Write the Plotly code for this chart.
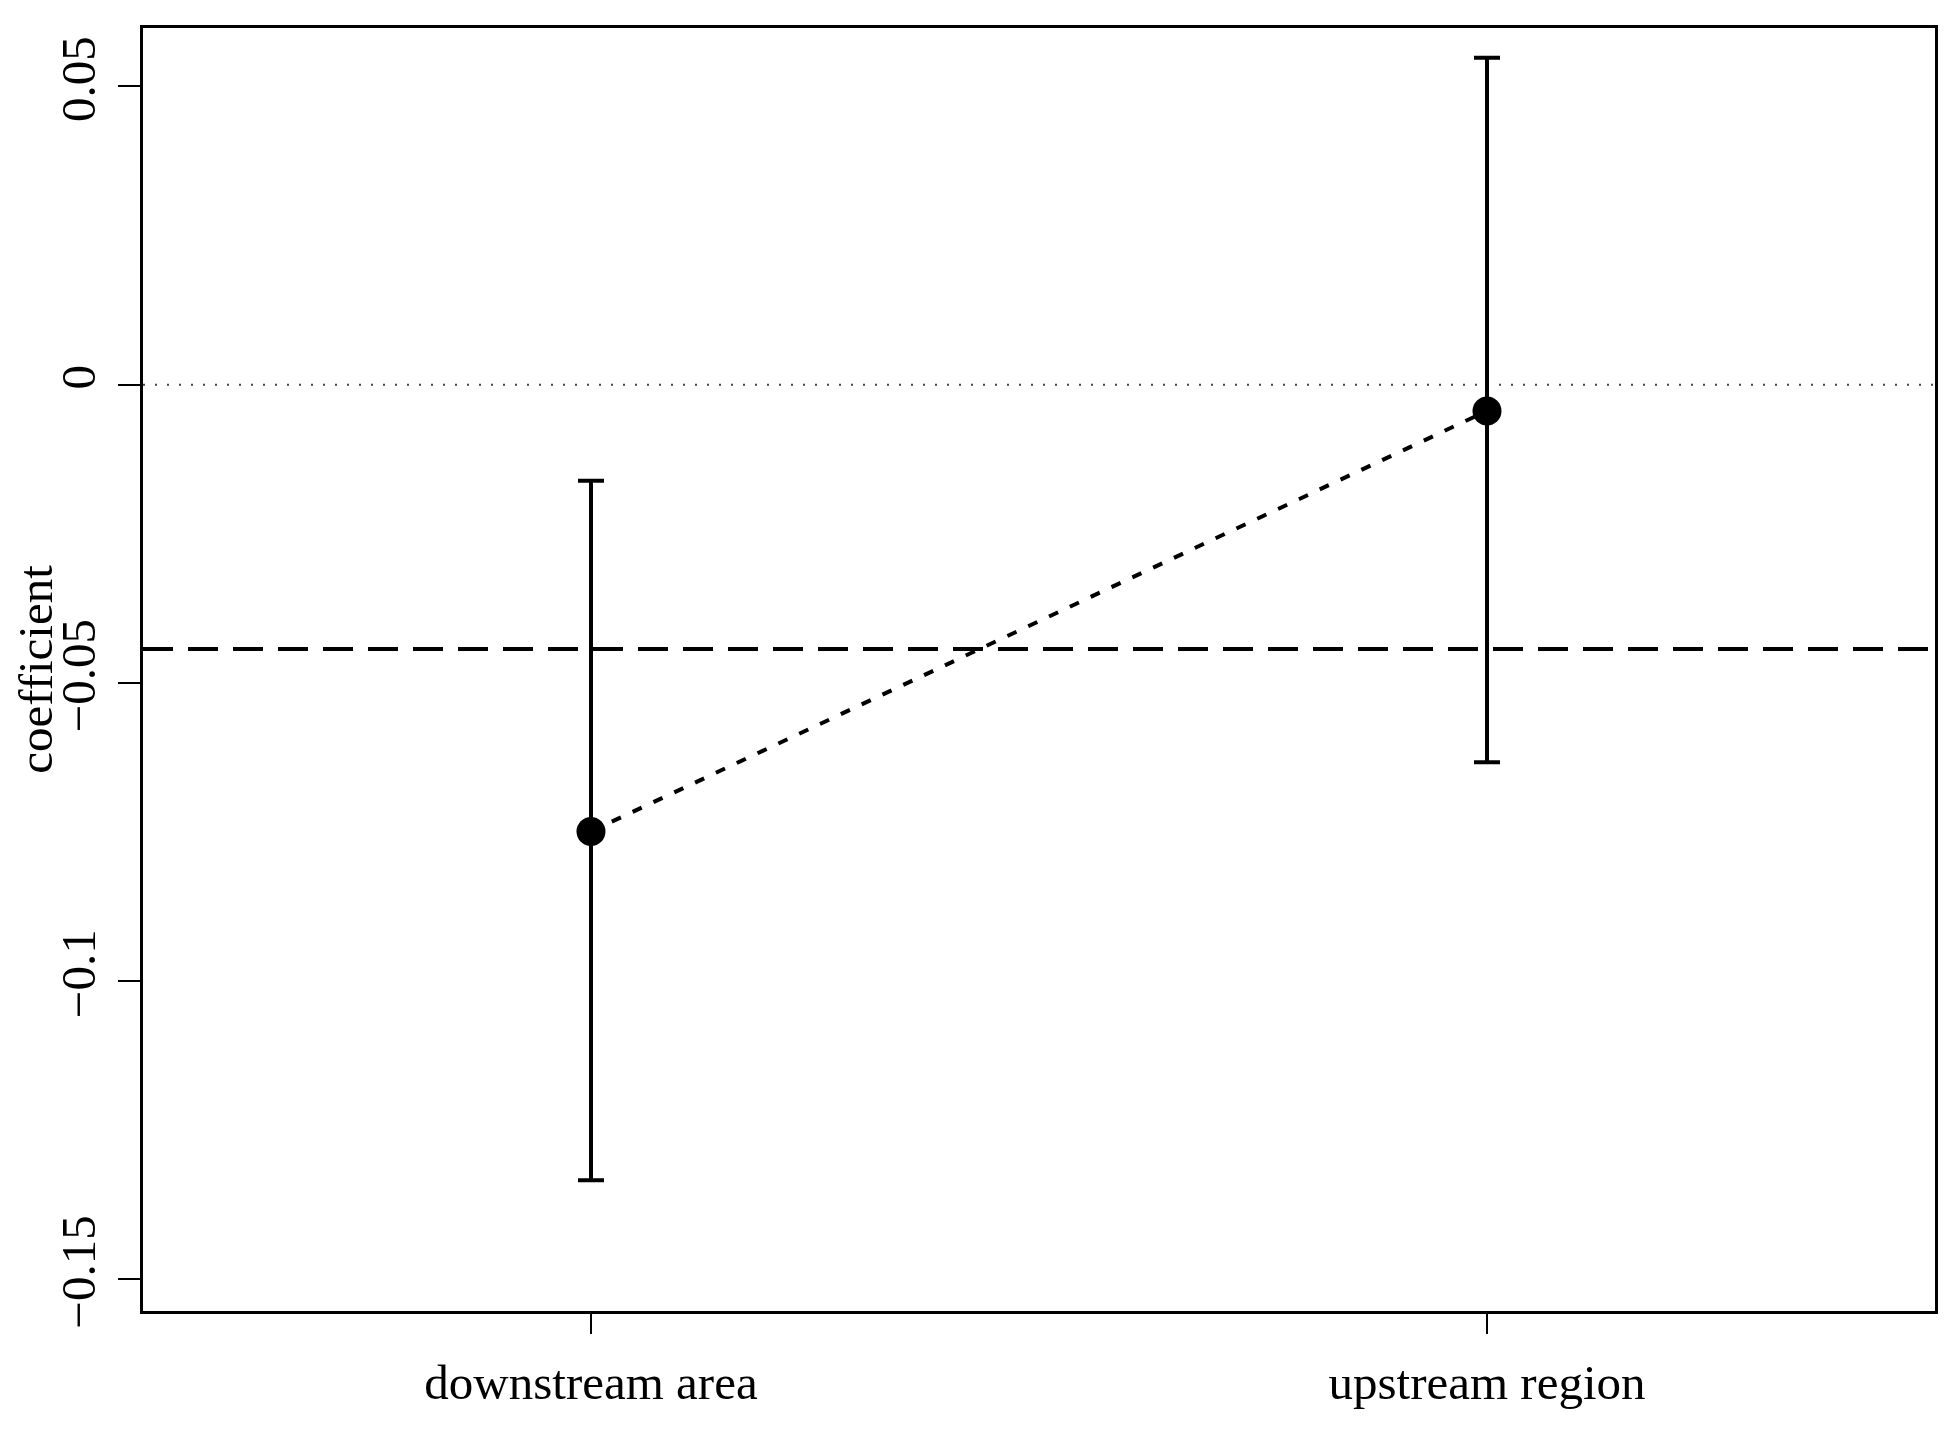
import plotly.graph_objects as go

# Coefficient plot: point estimates with confidence intervals
CATEGORIES = ["downstream area", "upstream region"]
X_POS = [1, 2]
COEF = [-0.0749, -0.0044]
CI_LOW = [-0.1334, -0.0633]
CI_HIGH = [-0.0161, 0.0548]
POOLED = -0.0443          # dashed reference line
Y_TICKS = [-0.15, -0.1, -0.05, 0, 0.05]
Y_TICK_TEXT = ["\u22120.15", "\u22120.1", "\u22120.05", "0", "0.05"]

FONT = "Liberation Serif, Times New Roman, serif"
FONT_SIZE = 49

err_plus = [h - c for h, c in zip(CI_HIGH, COEF)]
err_minus = [c - l for c, l in zip(COEF, CI_LOW)]

fig = go.Figure()

fig.add_trace(go.Scatter(
    x=X_POS,
    y=COEF,
    mode="lines+markers",
    line=dict(color="black", width=4, dash="10px,13px"),
    marker=dict(color="black", size=29),
    error_y=dict(
        type="data",
        array=err_plus,
        arrayminus=err_minus,
        color="black",
        thickness=4,
        width=13,
    ),
    showlegend=False,
    hoverinfo="skip",
))

# page body has an 8px margin, so the figure is a bit smaller than the window
fig.update_layout(
    width=1952,
    height=1421,
    margin=dict(l=135, r=25, t=20, b=118),
    paper_bgcolor="white",
    plot_bgcolor="white",
    font=dict(family=FONT, size=FONT_SIZE, color="black"),
    shapes=[
        dict(type="line", xref="paper", yref="y", x0=0, x1=1, y0=0, y1=0,
             line=dict(color="#444444", width=2, dash="2px,10px"), layer="below"),
        dict(type="line", xref="paper", yref="y", x0=0, x1=1,
             y0=POOLED, y1=POOLED,
             line=dict(color="black", width=4, dash="30px,15px"), layer="below"),
    ],
)

fig.update_xaxes(
    range=[0.5, 2.5],
    tickvals=X_POS,
    ticktext=CATEGORIES,
    ticks="outside",
    ticklen=20,
    tickwidth=2,
    tickcolor="black",
    showline=True,
    linecolor="black",
    linewidth=3,
    mirror=True,
    showgrid=False,
    zeroline=False,
    automargin=False,
    ticklabelstandoff=6,
)

fig.update_yaxes(
    range=[-0.1553, 0.0598],
    tickvals=Y_TICKS,
    ticktext=Y_TICK_TEXT,
    tickangle=-90,
    ticks="outside",
    ticklen=22,
    tickwidth=2,
    tickcolor="black",
    showline=True,
    linecolor="black",
    linewidth=3,
    mirror=True,
    showgrid=False,
    zeroline=False,
    automargin=False,
    ticklabelstandoff=3,
    title=dict(text="coefficient", standoff=0, font=dict(size=FONT_SIZE)),
)

fig.write_html("out.html")
